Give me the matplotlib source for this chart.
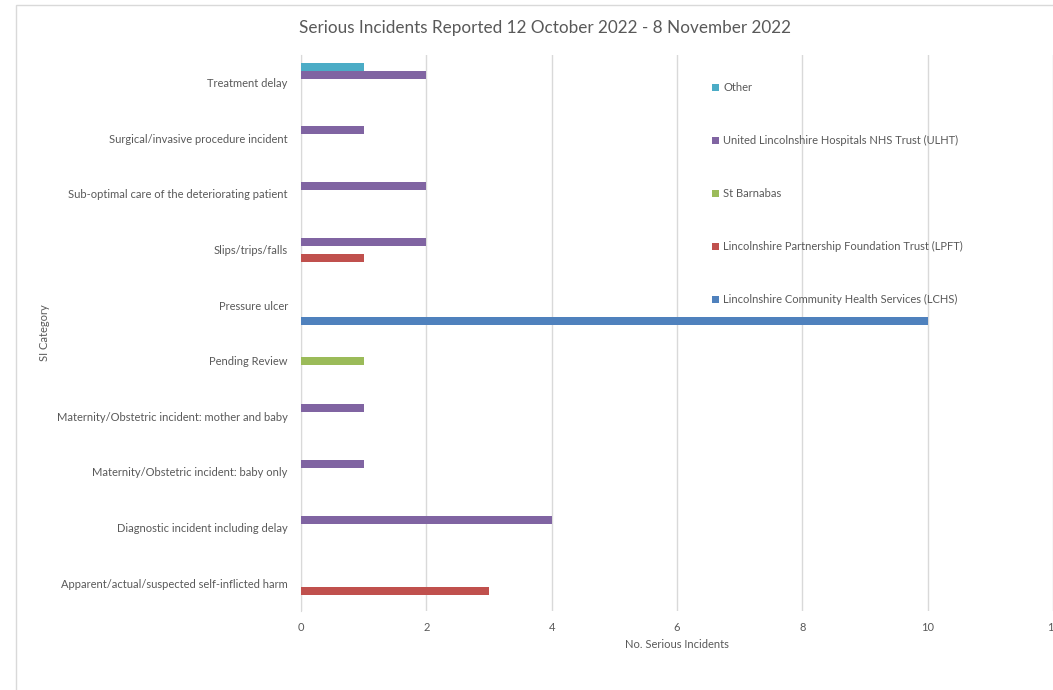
import numpy as np
import matplotlib.pyplot as plt
from matplotlib.patches import Rectangle

plt.rcParams['font.family'] = ['Lato', 'DejaVu Sans']

# SI categories, bottom to top as drawn
categories = ["Apparent/actual/suspected self-inflicted harm",
              "Diagnostic incident including delay",
              "Maternity/Obstetric incident: baby only",
              "Maternity/Obstetric incident: mother and baby",
              "Pending Review",
              "Pressure ulcer",
              "Slips/trips/falls",
              "Sub-optimal care of the deteriorating patient",
              "Surgical/invasive procedure incident",
              "Treatment delay"]

# counts per provider
lchs = [0, 0, 0, 0, 0, 10, 0, 0, 0, 0]
lpft = [3, 0, 0, 0, 0, 0, 1, 0, 0, 0]
st_barnabas = [0, 0, 0, 0, 1, 0, 0, 0, 0, 0]
ulht = [0, 4, 1, 1, 0, 0, 2, 2, 1, 2]
other = [0, 0, 0, 0, 0, 0, 0, 0, 0, 1]

series_names = ["Lincolnshire Community Health Services (LCHS)",
                "Lincolnshire Partnership Foundation Trust (LPFT)",
                "St Barnabas",
                "United Lincolnshire Hospitals NHS Trust (ULHT)",
                "Other"]
series = [lchs, lpft, st_barnabas, ulht, other]
colors = ["#4F81BD", "#C0504D", "#9BBB59", "#8064A2", "#4BACC6"]

txt = "#595959"
grid = "#D9D9D9"

fig = plt.figure(figsize=(10.53, 6.90), dpi=100)
ax = fig.add_axes([301/1053, 1-611/690, 1-301/1053, (611-55)/690])

y = np.arange(len(categories))
h = 0.144
bars = []
for i, (vals, c) in enumerate(zip(series, colors)):
    b = ax.barh(y + (i-2)*h, vals, height=h, color=c, label=series_names[i], zorder=3)
    bars.append(b)

ax.set_xlim(0, 12)
ax.set_ylim(-0.5, len(categories)-0.5)
ax.set_xticks(range(0, 13, 2))
ax.set_yticks(y)
ax.set_yticklabels(categories)
ax.tick_params(length=0, labelsize=8, colors=txt)
ax.tick_params(axis='y', pad=9.5)
ax.tick_params(axis='x', pad=8)
ax.grid(axis='x', color=grid, lw=1, zorder=0)
for s in ["top", "right", "bottom"]:
    ax.spines[s].set_visible(False)
ax.spines["left"].set_color(grid)

# legend, reversed order like the original
ax.legend(bars[::-1], series_names[::-1], loc="upper left",
          bbox_to_anchor=(712/1053, 1-82/690), bbox_transform=fig.transFigure,
          frameon=False, fontsize=8, labelcolor=txt, handlelength=0.6,
          handleheight=0.6, handletextpad=0.4, labelspacing=3.78,
          borderpad=0, borderaxespad=0)

fig.text(545/1053, 1-28/690, "Serious Incidents Reported 12 October 2022 - 8 November 2022",
         ha="center", va="center", fontsize=12.3, color=txt)
fig.text(677/1053, 1-645/690, "No. Serious Incidents", ha="center", va="center",
         fontsize=8, color=txt)
fig.text(44/1053, 1-333/690, "SI Category", ha="center", va="center",
         rotation=90, fontsize=8, color=txt)

fig.add_artist(Rectangle((16/1053, -0.01), 1, 1-5/690+0.01, transform=fig.transFigure,
                         fill=False, edgecolor=grid, lw=1))

plt.savefig("out.png", dpi=100)
